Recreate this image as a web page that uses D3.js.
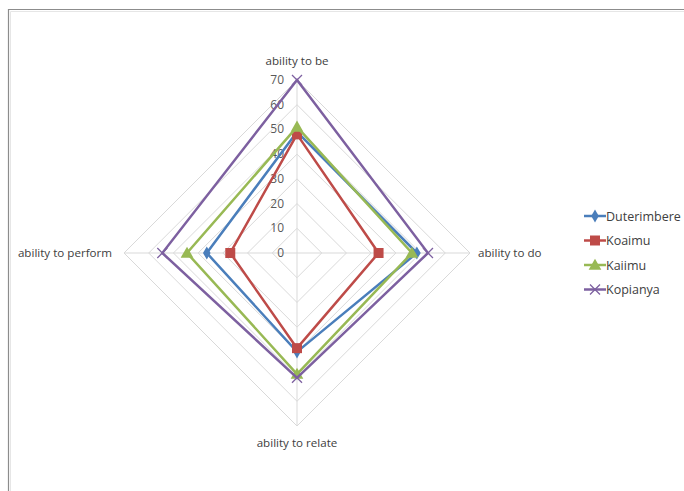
<!DOCTYPE html>
<html>
<head>
<meta charset="utf-8">
<script src="https://cdn.jsdelivr.net/npm/d3@7/dist/d3.min.js"></script>
<style>
  html, body { margin: 0; padding: 0; background: #fff; }
  svg { display: block; font-family: "Open Sans", "Liberation Sans", sans-serif; }
</style>
</head>
<body>
<svg id="chart" width="684" height="491"></svg>
<script>
// Radar chart: four villages scored on four abilities
const axes = ["ability to be", "ability to do", "ability to relate", "ability to perform"];
const seriesNames = ["Duterimbere", "Koaimu", "Kaiimu", "Kopianya"];
const duterimbere = [49, 48.5, 40, 36.5];
const koaimu      = [48, 33, 38.5, 27];
const kaiimu      = [51, 46.5, 49, 44.5];
const kopianya    = [70, 53, 50.5, 54.5];
const tickValues  = [0, 10, 20, 30, 40, 50, 60, 70];
const colors      = ["#4a7ebb", "#be4b48", "#98b954", "#7d60a0"];
const markers     = ["diamond", "square", "triangle", "cross"];

const allValues = [duterimbere, koaimu, kaiimu, kopianya];

const svg = d3.select("#chart");
const cx = 297, cy = 253, R = 173;

// frame
svg.append("path")
  .attr("d", "M8.5,491 V9.5 H684")
  .attr("fill", "none").attr("stroke", "#8c8c8c").attr("stroke-width", 1.2);
svg.append("path")
  .attr("d", "M10.5,491 V11.5 H684")
  .attr("fill", "none").attr("stroke", "#e6e6e6").attr("stroke-width", 1);

const r = d3.scaleLinear().domain([0, 70]).range([0, R]);
const angle = d3.scaleBand().domain(axes).range([0, 2 * Math.PI]).align(0).paddingInner(0).paddingOuter(0);
const ang = a => angle(a) - Math.PI / 2;
const pt = (a, v) => [cx + Math.cos(ang(a)) * r(v), cy + Math.sin(ang(a)) * r(v)];

const g = svg.append("g");

// grid rings
tickValues.slice(1).forEach(t => {
  g.append("path")
    .attr("d", d3.line()(axes.map(a => pt(a, t))) + "Z")
    .attr("fill", "none").attr("stroke", "#d9d9d9").attr("stroke-width", 1);
});
// spokes
axes.forEach(a => {
  const [x, y] = pt(a, 70);
  g.append("line").attr("x1", cx).attr("y1", cy).attr("x2", x).attr("y2", y)
    .attr("stroke", "#d9d9d9").attr("stroke-width", 1);
});

// radial tick labels on the top spoke
tickValues.forEach(t => {
  const [x, y] = pt(axes[0], t);
  g.append("text").attr("x", x - 13).attr("y", y + 4)
    .attr("text-anchor", "end").attr("font-size", 12).attr("fill", "#595959")
    .text(t);
});

// axis labels
const labelPos = [
  { dx: 0, dy: -15, anchor: "middle" },
  { dx: 8, dy: 4, anchor: "start" },
  { dx: 0, dy: 21, anchor: "middle" },
  { dx: -12, dy: 4, anchor: "end" }
];
axes.forEach((a, i) => {
  const [x, y] = pt(a, 70);
  g.append("text").attr("x", x + labelPos[i].dx).attr("y", y + labelPos[i].dy)
    .attr("text-anchor", labelPos[i].anchor).attr("font-size", 11.6).attr("fill", "#404040")
    .text(a);
});

function drawMarker(sel, type, color, x, y) {
  if (type === "diamond") {
    sel.append("path").attr("d", d3.symbol(d3.symbolDiamond, 50)())
      .attr("transform", `translate(${x},${y})`).attr("fill", color);
  } else if (type === "square") {
    sel.append("path").attr("d", d3.symbol(d3.symbolSquare, 100)())
      .attr("transform", `translate(${x},${y})`).attr("fill", color);
  } else if (type === "triangle") {
    sel.append("path").attr("d", d3.symbol(d3.symbolTriangle, 70)())
      .attr("transform", `translate(${x},${y + 1})`).attr("fill", color);
  } else {
    sel.append("path").attr("d", `M${x-5},${y-5}L${x+5},${y+5}M${x-5},${y+5}L${x+5},${y-5}`)
      .attr("stroke", color).attr("stroke-width", 1.3).attr("fill", "none");
  }
}

// series
allValues.forEach((vals, si) => {
  const pts = axes.map((a, i) => pt(a, vals[i]));
  g.append("path").attr("d", d3.line()(pts) + "Z")
    .attr("fill", "none").attr("stroke", colors[si]).attr("stroke-width", 2.5)
    .attr("stroke-linejoin", "miter");
  pts.forEach(([x, y]) => drawMarker(g, markers[si], colors[si], x, y));
});

// legend
const legend = svg.append("g");
seriesNames.forEach((name, i) => {
  const y = 216 + i * 24.5;
  legend.append("line").attr("x1", 584).attr("x2", 606).attr("y1", y).attr("y2", y)
    .attr("stroke", colors[i]).attr("stroke-width", 2.5);
  drawMarker(legend, markers[i], colors[i], 595, y);
  legend.append("text").attr("x", 606).attr("y", y + 4.5)
    .attr("font-size", 12.5).attr("fill", "#404040").text(name);
});
</script>
</body>
</html>
